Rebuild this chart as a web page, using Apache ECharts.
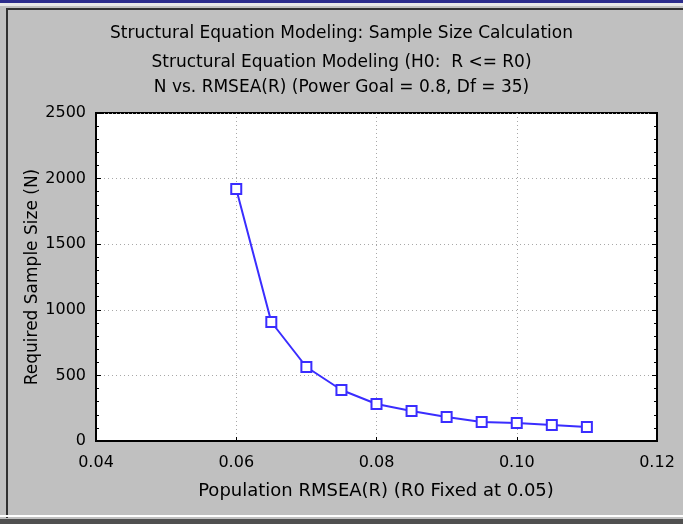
<!DOCTYPE html>
<html>
<head>
<meta charset="utf-8">
<script src="https://cdn.jsdelivr.net/npm/echarts@6/dist/echarts.min.js"></script>
<style>
html,body{margin:0;padding:0;background:#c0c0c0;}
#main{width:683px;height:524px;}
</style>
</head>
<body>
<div id="main"></div>
<script>
// data
var rmsea = [0.06, 0.065, 0.07, 0.075, 0.08, 0.085, 0.09, 0.095, 0.10, 0.105, 0.11];
var sampleN = [1920, 907, 564, 389, 282, 229, 183, 145, 137, 122, 107];
var titles = [
  'Structural Equation Modeling: Sample Size Calculation',
  'Structural Equation Modeling (H0:  R <= R0)',
  'N vs. RMSEA(R) (Power Goal = 0.8, Df = 35)'
];
var xName = 'Population RMSEA(R) (R0 Fixed at 0.05)';
var yName = 'Required Sample Size (N)';

var font = 'DejaVu Sans, sans-serif';
var blue = '#3a2dff';

var chart = echarts.init(document.getElementById('main'));
var titleTops = [25, 54, 79];
chart.setOption({
  backgroundColor: '#c0c0c0',
  animation: false,
  title: titles.map(function (t, i) {
    return {
      text: t, left: 'center', top: titleTops[i], padding: 0,
      textStyle: {fontFamily: font, fontSize: 17, fontWeight: 'normal', color: '#000'}
    };
  }),
  graphic: [
    {type: 'rect', shape: {x: 0, y: 0, width: 683, height: 3}, style: {fill: '#2c2c8c'}},
    {type: 'rect', shape: {x: 0, y: 3, width: 683, height: 3}, style: {fill: '#e8e8e8'}},
    {type: 'rect', shape: {x: 6, y: 8, width: 700, height: 2}, style: {fill: '#303030'}},
    {type: 'rect', shape: {x: 6, y: 8, width: 2, height: 510}, style: {fill: '#303030'}},
    {type: 'rect', shape: {x: 0, y: 515, width: 683, height: 2}, style: {fill: '#ffffff'}},
    {type: 'rect', shape: {x: 0, y: 519, width: 683, height: 5}, style: {fill: '#505050'}},
    {type: 'text', x: 376, y: 491,
      style: {text: xName, font: '18px ' + font, fill: '#000', align: 'center', verticalAlign: 'middle'}},
    {type: 'text', x: 33, y: 277, rotation: Math.PI / 2,
      style: {text: yName, font: '17px ' + font, fill: '#000', align: 'center', verticalAlign: 'middle'}}
  ],
  grid: {left: 96, right: 26, top: 113, bottom: 83, show: true,
    backgroundColor: '#ffffff', borderColor: '#000', borderWidth: 2},
  xAxis: [{
    type: 'value', min: 0.04, max: 0.12, interval: 0.02,
    axisLine: {show: true, onZero: false, lineStyle: {color: '#000', width: 2}},
    axisTick: {show: true, inside: true, length: 4, lineStyle: {color: '#000'}},
    axisLabel: {fontFamily: font, fontSize: 16, color: '#000', margin: 14,
      formatter: function (v) { return v.toFixed(2); }},
    splitLine: {show: true, lineStyle: {color: '#a8a8a8', type: [1, 3]}}
  }],
  yAxis: [{
    type: 'value', min: 0, max: 2500, interval: 500,
    axisLine: {show: true, lineStyle: {color: '#000', width: 2}},
    axisTick: {show: true, inside: true, length: 5, lineStyle: {color: '#000'}},
    minorTick: {show: true, splitNumber: 5, length: 3, lineStyle: {color: '#000'}},
    axisLabel: {fontFamily: font, fontSize: 16, color: '#000', margin: 10,
      formatter: function (v) { return String(v); }},
    splitLine: {show: true, lineStyle: {color: '#a8a8a8', type: [1, 3]}}
  }, {
    type: 'value', min: 0, max: 2500, interval: 500, position: 'right',
    axisLine: {show: true, lineStyle: {color: '#000', width: 2}},
    axisTick: {show: true, inside: true, length: 5, lineStyle: {color: '#000'}},
    minorTick: {show: true, splitNumber: 5, length: 3, lineStyle: {color: '#000'}},
    axisLabel: {show: false},
    splitLine: {show: false}
  }],
  series: [{
    type: 'line',
    data: rmsea.map(function (x, i) { return [x, sampleN[i]]; }),
    symbol: 'rect', symbolSize: 10,
    lineStyle: {color: blue, width: 2},
    itemStyle: {color: '#ffffff', borderColor: blue, borderWidth: 2}
  }]
});
</script>
</body>
</html>
